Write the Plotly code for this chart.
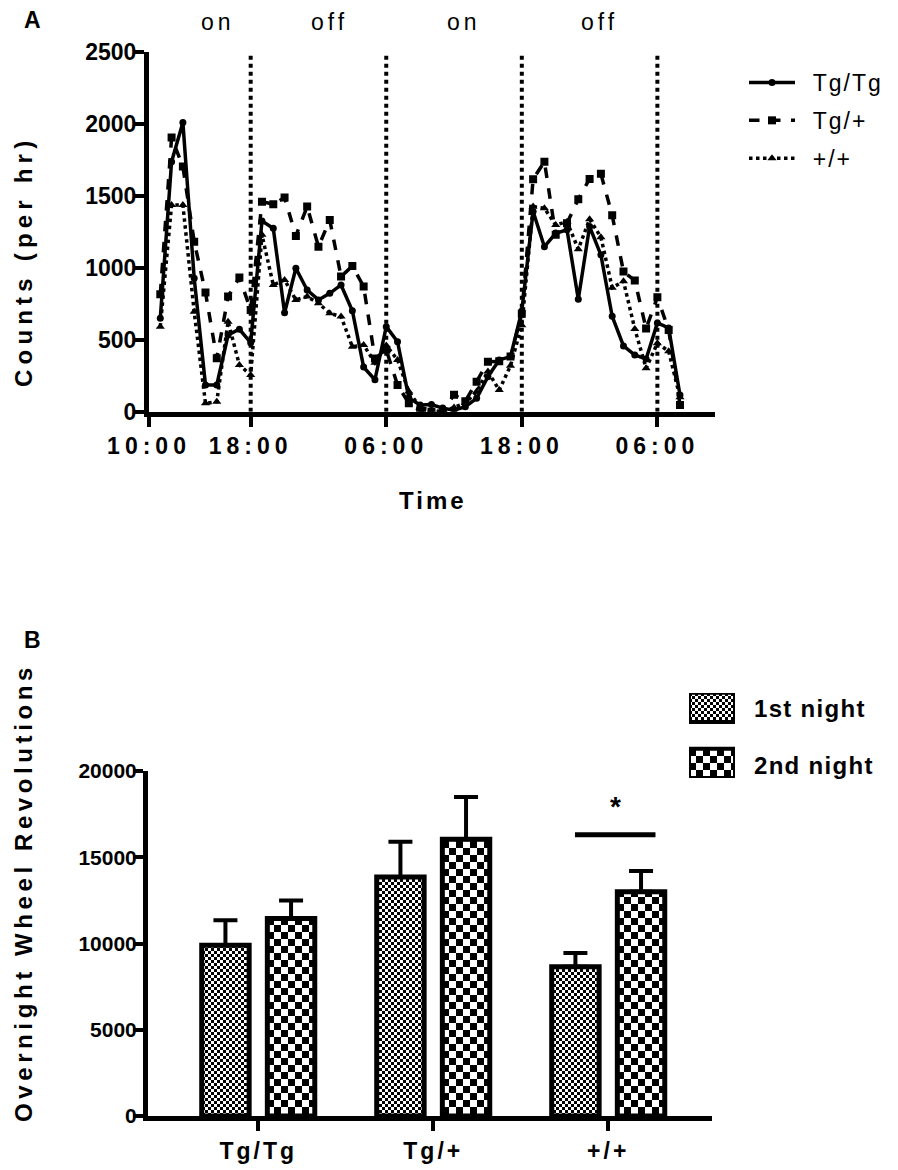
import plotly.graph_objects as go

# ---------------- Panel A data (hourly counts) ----------------
hours = list(range(1, 48))
tg_tg = [650, 1738, 2010, 928, 186, 186, 533, 573, 480,
         1326, 1275, 688, 997, 846, 777, 823, 881, 702, 310, 222, 591,
         487, 95, 47, 50, 25, 10, 35, 93, 243, 360, 383, 700,
         1391, 1147, 1240, 1264, 782, 1287, 1090, 663, 457, 394, 366, 617, 582, 116]
tg_het = [816, 1905, 1704, 1182, 828, 371, 800, 932, 707,
          1460, 1442, 1488, 1222, 1426, 1147, 1333, 939, 1013, 870, 370, 430,
          186, 58, 10, 0, 0, 118, 72, 209, 348, 350, 383, 680,
          1616, 1738, 1229, 1310, 1477, 1618, 1653, 1365, 974, 912, 578, 795, 568, 47]
wt = [591, 1437, 1437, 695, 58, 70, 626, 325, 255,
      1229, 881, 916, 777, 800, 754, 684, 661, 452, 464, 340, 460,
      360, 140, 30, 10, 0, 30, 60, 140, 280, 150, 320, 600,
      1426, 1414, 1298, 1321, 1129, 1338, 1213, 862, 906, 575, 302, 476, 420, 100]
series_names = ["Tg/Tg", "Tg/+", "+/+"]

time_tick_vals = [0, 9, 21, 33, 45]
time_tick_text = ["10:00", "18:00", "06:00", "18:00", "06:00"]
light_boundaries = [9, 21, 33, 45]
phase_labels = ["on", "off", "on", "off"]
phase_label_pos = [6.1, 16.0, 27.9, 39.9]
count_ticks = [0, 500, 1000, 1500, 2000, 2500]

# ---------------- Panel B data ----------------
genotypes = ["Tg/Tg", "Tg/+", "+/+"]
night_names = ["1st night", "2nd night"]
night1 = [9900, 13850, 8650]
night1_err = [1450, 2050, 800]
night2 = [11450, 16050, 13000]
night2_err = [1050, 2450, 1200]
rev_ticks = [0, 5000, 10000, 15000, 20000]
sig_level = 16300

FONT = "Liberation Sans, Arial, sans-serif"
W, H = 898, 1170


def px_x(p):
    return p / W


def px_y(p):
    return 1 - p / H


def spaced(t, sp):
    return f'<span style="letter-spacing:{sp}px">{t}</span>'


fig = go.Figure()

# ---------- Panel A traces ----------
styles = [
    dict(dash="solid", symbol="circle", msize=7),
    dict(dash="dash", symbol="square", msize=8),
    dict(dash="dot", symbol="triangle-up", msize=8),
]
for k, (name, vals, st) in enumerate(zip(series_names, [tg_tg, tg_het, wt], styles)):
    fig.add_trace(go.Scatter(
        x=hours, y=vals, name="&nbsp;&nbsp;" + spaced(name, 2), mode="lines+markers",
        line=dict(color="black", width=3.5, dash=st["dash"]),
        marker=dict(color="black", symbol=st["symbol"], size=st["msize"]),
        xaxis="x", yaxis="y", legend="legend", legendgroup=f"g{k}",
    ))

# ---------- Panel B bars ----------
cat_idx = list(range(len(genotypes)))
bar_w = 0.271
pat_fine = dict(path="M0,0H3V3H0Z M3,3H6V6H3Z", size=6, fgcolor="black", bgcolor="white", fillmode="replace")
pat_coarse = dict(path="M0,0H7V7H0Z M7,7H14V14H7Z", size=14, fgcolor="black", bgcolor="white", fillmode="replace")

fig.add_trace(go.Bar(
    x=cat_idx, y=night1, name=night_names[0], width=bar_w, offset=-0.323,
    marker=dict(color="white", line=dict(color="black", width=5), pattern=pat_fine),
    error_y=dict(type="data", symmetric=False, array=night1_err, arrayminus=[0] * 3,
                 color="black", thickness=4, width=12),
    xaxis="x2", yaxis="y2", showlegend=False,
))
fig.add_trace(go.Bar(
    x=cat_idx, y=night2, name=night_names[1], width=bar_w, offset=0.052,
    marker=dict(color="white", line=dict(color="black", width=5), pattern=pat_coarse),
    error_y=dict(type="data", symmetric=False, array=night2_err, arrayminus=[0] * 3,
                 color="black", thickness=4, width=12),
    xaxis="x2", yaxis="y2", showlegend=False,
))

# custom legend swatches for panel B (large patterned boxes)
fig.add_trace(go.Bar(
    y=[1], x=[1], orientation="h", width=0.52,
    marker=dict(color="white", line=dict(color="black", width=4), pattern=pat_fine),
    xaxis="x3", yaxis="y3", showlegend=False, hoverinfo="skip",
))
fig.add_trace(go.Bar(
    y=[0], x=[1], orientation="h", width=0.52,
    marker=dict(color="white", line=dict(color="black", width=4), pattern=pat_coarse),
    xaxis="x3", yaxis="y3", showlegend=False, hoverinfo="skip",
))

axis_common = dict(
    showline=True, linecolor="black", linewidth=5, mirror=False,
    ticks="outside", ticklen=10, tickwidth=4, tickcolor="black",
    showgrid=False, zeroline=False, automargin=False,
)
tick_font_A = dict(family=FONT, size=23, color="black", weight="bold")
tick_font_B = dict(family=FONT, size=21, color="black", weight="bold")
title_font = dict(family=FONT, size=24, color="black")

shapes = []
for b in light_boundaries:
    shapes.append(dict(type="line", xref="x", yref="y", x0=b, x1=b, y0=0, y1=2500,
                       line=dict(color="black", width=4, dash="dot"), layer="below"))
# significance bar
shapes.append(dict(type="line", xref="x2", yref="y2",
                   x0=2 - 0.19, x1=2 + 0.27, y0=sig_level, y1=sig_level,
                   line=dict(color="black", width=5)))

annotations = []
for lab, pos in zip(phase_labels, phase_label_pos):
    annotations.append(dict(x=pos, y=px_y(22), xref="x", yref="paper", text=spaced(lab, 4),
                            showarrow=False, font=dict(family=FONT, size=23, color="black"),
                            xanchor="center", yanchor="middle"))
annotations += [
    dict(x=px_x(32), y=px_y(20), xref="paper", yref="paper", text="<b>A</b>", showarrow=False,
         font=dict(family=FONT, size=23, color="black"), xanchor="center", yanchor="middle"),
    dict(x=px_x(32), y=px_y(640), xref="paper", yref="paper", text="<b>B</b>", showarrow=False,
         font=dict(family=FONT, size=23, color="black"), xanchor="center", yanchor="middle"),
    dict(x=2 + 0.04, y=px_y(806), xref="x2", yref="paper", text="<b>*</b>", showarrow=False,
         font=dict(family=FONT, size=28, color="black"), xanchor="center", yanchor="middle"),
    # axis titles
    dict(x=px_x(23), y=px_y(262), xref="paper", yref="paper",
         text=f"<b>{spaced('Counts (per hr)', 5.2)}</b>", textangle=-90, showarrow=False,
         font=title_font, xanchor="center", yanchor="middle"),
    dict(x=px_x(23), y=px_y(893), xref="paper", yref="paper",
         text=f"<b>{spaced('Overnight Wheel Revolutions', 4.6)}</b>", textangle=-90, showarrow=False,
         font=title_font, xanchor="center", yanchor="middle"),
    dict(x=px_x(433), y=px_y(500), xref="paper", yref="paper",
         text=f"<b>{spaced('Time', 3)}</b>", showarrow=False,
         font=title_font, xanchor="center", yanchor="middle"),
]
for i, nm in enumerate(night_names):
    annotations.append(dict(x=px_x(752), y=px_y(708 + 57 * i), xref="paper", yref="paper",
                            text=f"<b>{spaced(nm, 1.3)}</b>", showarrow=False,
                            font=dict(family=FONT, size=24, color="black"),
                            xanchor="left", yanchor="middle"))

fig.update_layout(
    width=W, height=H, margin=dict(l=0, r=0, t=0, b=0, autoexpand=False),
    paper_bgcolor="white", plot_bgcolor="white",
    font=dict(family=FONT, color="black"),
    barmode="overlay",
    xaxis=dict(axis_common, domain=[px_x(149), px_x(715)], range=[0, 50.1],
               tickvals=time_tick_vals, ticktext=[spaced(t, 5) for t in time_tick_text],
               tickfont=tick_font_A, anchor="y"),
    yaxis=dict(axis_common, domain=[px_y(411.7), px_y(52)], range=[0, 2500],
               tickvals=count_ticks, tickformat="d", tickfont=tick_font_A,
               ticklabelstandoff=-7, anchor="x"),
    xaxis2=dict(axis_common, domain=[px_x(148), px_x(712)], range=[-0.63, 2.593],
                tickvals=cat_idx, ticktext=[spaced(g, 3) for g in genotypes],
                tickfont=tick_font_A, anchor="y2"),
    yaxis2=dict(axis_common, domain=[px_y(1116), px_y(771)], range=[0, 20000],
                tickvals=rev_ticks, tickformat="d", tickfont=tick_font_B,
                ticklabelstandoff=-8, anchor="x2"),
    xaxis3=dict(domain=[px_x(689), px_x(735)], range=[0, 1], visible=False, anchor="y3",
                fixedrange=True, automargin=False),
    yaxis3=dict(domain=[px_y(778), px_y(693)], range=[-0.259, 1.254], visible=False, anchor="x3",
                fixedrange=True, automargin=False),
    legend=dict(x=px_x(744), y=px_y(61), xanchor="left", yanchor="top",
                font=dict(family=FONT, size=23, color="black"), bgcolor="rgba(0,0,0,0)",
                itemwidth=46, tracegroupgap=5),
    shapes=shapes, annotations=annotations,
)

fig.write_html("out.html")
